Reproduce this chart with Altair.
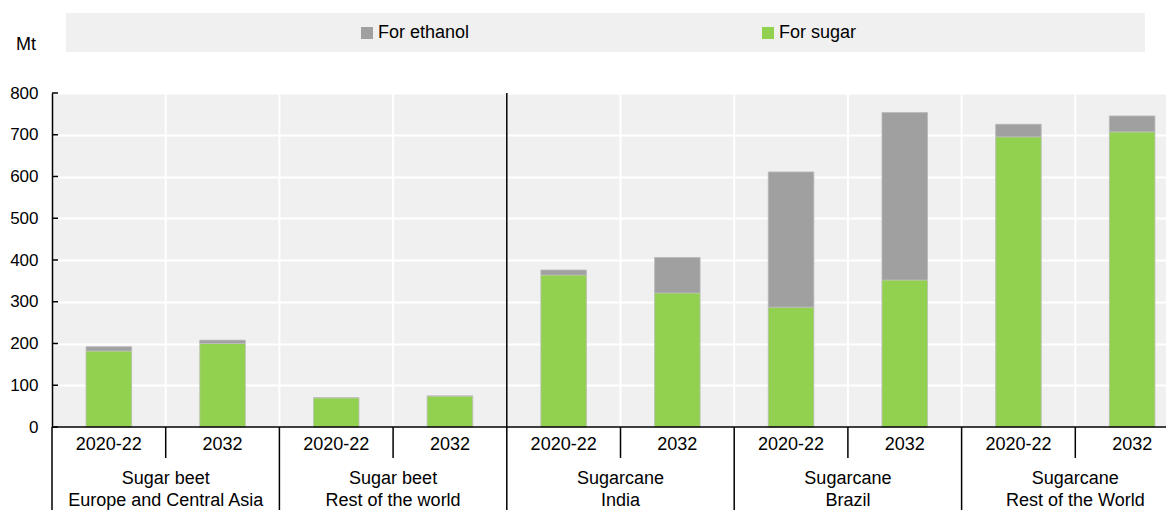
import altair as alt
import pandas as pd

# ---- data ----
periods = ["2020-22", "2032"] * 5
groups = ["Sugar beet\nEurope and Central Asia", "Sugar beet\nRest of the world",
          "Sugarcane\nIndia", "Sugarcane\nBrazil", "Sugarcane\nRest of the World"]
sugar = [182, 200, 70, 74, 364, 321, 287, 352, 695, 707]
ethanol = [10, 8, 0, 0, 12, 85, 324, 401, 30, 38]
series = ["For ethanol", "For sugar"]
colors = ["#A0A0A0", "#92D050"]
y_ticks = list(range(0, 801, 100))
unit = "Mt"

FONT = "Liberation Sans"
FS = 18
W, H = 1114, 334
XMAX = 1114 / 113.7

# ---- tables built from the lists ----
rows = []
for i, (s, e) in enumerate(zip(sugar, ethanol)):
    rows.append({"col": i, "series": "For sugar", "lo": 0, "hi": s})
    rows.append({"col": i, "series": "For ethanol", "lo": s, "hi": s + e})
bars_df = pd.DataFrame(rows)
per_df = pd.DataFrame({"col": list(range(len(periods))), "period": periods})
grp_df = pd.DataFrame({"g": list(range(len(groups))), "label": groups})
tick_df = pd.DataFrame({"v": y_ticks})
leg_df = pd.DataFrame({"series": series, "color": colors})

xs = alt.Scale(domain=[0, XMAX], nice=False, zero=False)
ys = alt.Scale(domain=[0, 800], nice=False)

base_y_axis = alt.Axis(values=y_ticks, labelFont=FONT, labelFontSize=17, labelColor="black",
                       ticks=False, labelPadding=14, domain=True, domainColor="black",
                       domainWidth=1.5, grid=True, gridColor="white", gridWidth=2, title=None)

# vertical white grid between columns
vgrid = alt.Chart(per_df).transform_calculate(b="datum.col + 1").mark_rule(
    color="white", strokeWidth=2
).encode(
    x=alt.X("b:Q", scale=xs, axis=None),
    y=alt.value(0), y2=alt.value(H)
)

bars = alt.Chart(bars_df).transform_calculate(
    x0="datum.col + 0.3", x1="datum.col + 0.7"
).mark_bar(stroke="#c4c4c4", strokeWidth=0.6).encode(
    x=alt.X("x0:Q", scale=xs, axis=None),
    x2="x1:Q",
    y=alt.Y("lo:Q", scale=ys, axis=base_y_axis),
    y2="hi:Q",
    color=alt.Color("series:N", scale=alt.Scale(domain=series, range=colors), legend=None),
)

# inward y ticks
yticks = alt.Chart(tick_df).mark_rule(color="black", strokeWidth=1.5).encode(
    y=alt.Y("v:Q", scale=ys), x=alt.value(0), x2=alt.value(6)
)

# separator between beet and cane inside the plot
sep_df = pd.DataFrame({"b": [4]})
sep_plot = alt.Chart(sep_df).mark_rule(color="black", strokeWidth=1.5).encode(
    x=alt.X("b:Q", scale=xs), y=alt.value(0), y2=alt.value(H)
)

# baseline
baseline = alt.Chart(tick_df.head(1)).mark_rule(color="black", strokeWidth=1.5).encode(
    y=alt.Y("v:Q", scale=ys), x=alt.value(0), x2=alt.value(W)
)

# group separators below the axis
grp_sep = alt.Chart(grp_df).transform_calculate(b="datum.g * 2").mark_rule(
    color="black", strokeWidth=1.5
).encode(x=alt.X("b:Q", scale=xs), y=alt.value(H), y2=alt.value(H + 100))

# short period separators
per_sep = alt.Chart(grp_df).transform_calculate(b="datum.g * 2 + 1").mark_rule(
    color="black", strokeWidth=1.5
).encode(x=alt.X("b:Q", scale=xs), y=alt.value(H), y2=alt.value(H + 31))

per_text = alt.Chart(per_df).transform_calculate(c="datum.col + 0.5").mark_text(
    font=FONT, fontSize=FS, color="black", baseline="middle", align="center"
).encode(x=alt.X("c:Q", scale=xs), y=alt.value(H + 18), text="period:N")

grp_text = alt.Chart(grp_df).transform_calculate(c="datum.g * 2 + 1").mark_text(
    font=FONT, fontSize=FS, color="black", baseline="top", align="center",
    lineBreak="\n", lineHeight=22
).encode(x=alt.X("c:Q", scale=xs), y=alt.value(H + 43), text="label:N")

# legend band
band = alt.Chart(leg_df.head(1)).mark_rect(color="#F0F0F0").encode(
    x=alt.value(14), x2=alt.value(1093), y=alt.value(-80), y2=alt.value(-41)
)
leg_sq1 = alt.Chart(leg_df.iloc[[0]]).mark_rect().encode(
    x=alt.value(309), x2=alt.value(321), y=alt.value(-66), y2=alt.value(-54),
    color=alt.Color("color:N", scale=None)
)
leg_sq2 = alt.Chart(leg_df.iloc[[1]]).mark_rect().encode(
    x=alt.value(710), x2=alt.value(722), y=alt.value(-66), y2=alt.value(-54),
    color=alt.Color("color:N", scale=None)
)
leg_t1 = alt.Chart(leg_df.iloc[[0]]).mark_text(
    font=FONT, fontSize=FS, color="black", align="left", baseline="middle"
).encode(x=alt.value(326), y=alt.value(-60), text="series:N")
leg_t2 = alt.Chart(leg_df.iloc[[1]]).mark_text(
    font=FONT, fontSize=FS, color="black", align="left", baseline="middle"
).encode(x=alt.value(727), y=alt.value(-60), text="series:N")

mt = alt.Chart(pd.DataFrame({"t": [unit]})).mark_text(
    font=FONT, fontSize=FS, color="black", align="center", baseline="middle"
).encode(x=alt.value(-26), y=alt.value(-48), text="t:N")

chart = alt.layer(
    bars, vgrid, bars, sep_plot, yticks, baseline, grp_sep, per_sep, per_text, grp_text,
    band, leg_sq1, leg_sq2, leg_t1, leg_t2, mt
).properties(
    width=W, height=H,
    autosize=alt.AutoSizeParams(type="none"),
    padding={"left": 44, "top": 85, "right": 0, "bottom": 83},
).configure_view(fill="#F0F0F0", stroke=None)

chart.save("out.html", embed_options={"renderer": "svg", "actions": False})
